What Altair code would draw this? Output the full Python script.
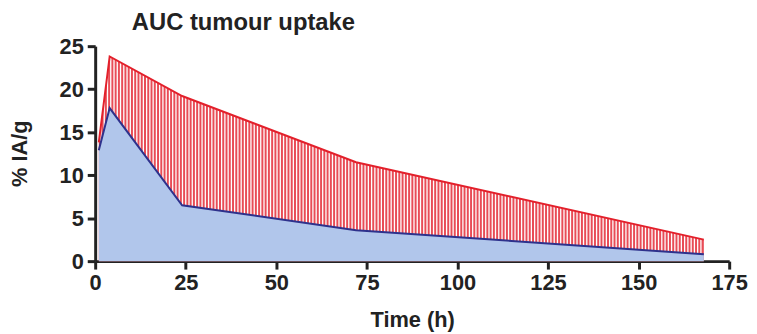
import altair as alt
import pandas as pd

# Data
time_h = [1, 4, 24, 72, 168]
red_uptake = [13.8, 23.8, 19.2, 11.5, 2.5]
blue_uptake = [12.9, 17.8, 6.5, 3.6, 0.8]
x_ticks = [0, 25, 50, 75, 100, 125, 150, 175]
y_ticks = [0, 5, 10, 15, 20, 25]

df = pd.DataFrame({"t": time_h, "red": red_uptake, "blue": blue_uptake})

FONT = "Liberation Sans"
INK = "#222222"
RED = "#e3202b"
NAVY = "#2e318c"

xscale = alt.Scale(domain=[0, 175], nice=False, zero=True)
yscale = alt.Scale(domain=[0, 25], nice=False, zero=True)

xaxis = alt.Axis(
    values=x_ticks, title="Time (h)", grid=False,
    domainColor=INK, domainWidth=3, tickColor=INK, tickWidth=3, tickSize=8,
    labelFont=FONT, labelFontSize=22, labelFontWeight="bold", labelColor=INK,
    labelPadding=4, labelFlush=False,
    titleFont=FONT, titleFontSize=22, titleFontWeight="bold", titleColor=INK,
    titleX=320, titleY=59, titleBaseline="middle", titleAlign="center",
)
yaxis = alt.Axis(
    values=y_ticks, title="% IA/g", grid=False,
    domainColor=INK, domainWidth=3, tickColor=INK, tickWidth=3, tickSize=8,
    labelFont=FONT, labelFontSize=22, labelFontWeight="bold", labelColor=INK,
    labelPadding=4,
    titleFont=FONT, titleFontSize=22, titleFontWeight="bold", titleColor=INK,
    titleX=-76, titleY=108, titleBaseline="middle", titleAlign="center", titleAngle=270,
)

X = alt.X("t:Q", scale=xscale, axis=xaxis)

base = alt.Chart(df)

red_area = base.mark_area(color="#e84c56", opacity=1).encode(
    x=X, y=alt.Y("red:Q", scale=yscale, axis=yaxis)
)

# white vertical gaps that turn the red fill into a hatch (invisible on white)
stripes = (
    alt.Chart(alt.sequence(1.6, 168, 0.9, as_="t"))
    .transform_calculate(y0="0.3", y1="25")
    .mark_rule(color="white", strokeWidth=1.3)
    .encode(x=X, y=alt.Y("y0:Q", scale=yscale, axis=yaxis), y2="y1:Q")
)

blue_area = base.mark_area(color="#b1c6eb", opacity=1).encode(
    x=X, y=alt.Y("blue:Q", scale=yscale, axis=yaxis)
)

red_line = base.mark_line(color=RED, strokeWidth=2).encode(
    x=X, y=alt.Y("red:Q", scale=yscale, axis=yaxis)
)
blue_line = base.mark_line(color=NAVY, strokeWidth=2).encode(
    x=X, y=alt.Y("blue:Q", scale=yscale, axis=yaxis)
)

chart = (
    alt.layer(red_area, stripes, blue_area, red_line, blue_line)
    .properties(
        width=640, height=217,
        background="white",
        title=alt.Title(
            "AUC tumour uptake", anchor="start", frame="group", dx=37,
            offset=-19, baseline="alphabetic",
            font=FONT, fontSize=24, fontWeight="bold", color=INK,
        ),
        autosize=alt.AutoSizeParams(type="none"),
        padding={"left": 88, "top": 37, "right": 20, "bottom": 70},
    )
    .configure_view(strokeWidth=0)
)

chart.save("out.html", embed_options={"renderer": "svg", "actions": False})
